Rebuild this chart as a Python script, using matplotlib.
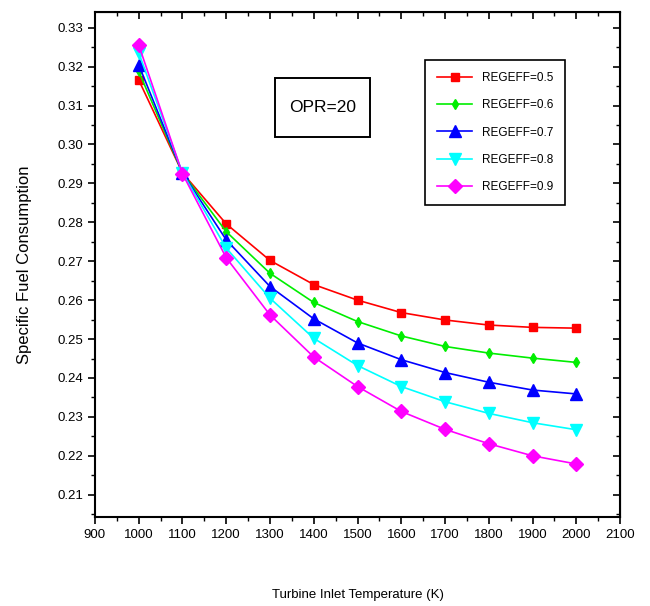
import matplotlib
matplotlib.use("Agg")
import matplotlib.pyplot as plt
from matplotlib.ticker import MultipleLocator
from matplotlib.patches import Rectangle

plt.rcParams['font.family'] = ['Liberation Sans', 'DejaVu Sans']

tit = [1000, 1100, 1200, 1300, 1400, 1500, 1600, 1700, 1800, 1900, 2000]
sfc_05 = [0.3166, 0.2927, 0.2796, 0.2702, 0.2640, 0.2600, 0.2568, 0.2549, 0.2536, 0.2530, 0.2528]
sfc_06 = [0.3188, 0.2927, 0.2776, 0.2669, 0.2594, 0.2545, 0.2508, 0.2481, 0.2464, 0.2451, 0.2440]
sfc_07 = [0.3205, 0.2927, 0.2755, 0.2635, 0.2552, 0.2490, 0.2447, 0.2414, 0.2389, 0.2369, 0.2359]
sfc_08 = [0.3236, 0.2927, 0.2734, 0.2605, 0.2502, 0.2432, 0.2378, 0.2339, 0.2309, 0.2285, 0.2267]
sfc_09 = [0.3256, 0.2925, 0.2709, 0.2562, 0.2454, 0.2378, 0.2314, 0.2268, 0.2231, 0.2200, 0.2179]
labels = ['REGEFF=0.5', 'REGEFF=0.6', 'REGEFF=0.7', 'REGEFF=0.8', 'REGEFF=0.9']

series = [sfc_05, sfc_06, sfc_07, sfc_08, sfc_09]
colors = ['#ff0000', '#00ee00', '#0000ff', '#00ffff', '#ff00ff']
markers = ['s', 'd', '^', 'v', 'D']
msizes = [6, 5, 8, 8, 7]

fig = plt.figure(figsize=(6.5, 6.06), dpi=100)
ax = fig.add_axes([0.146, 0.147, 0.808, 0.833])

for ys, c, m, ms, lab in zip(series, colors, markers, msizes, labels):
    ax.plot(tit, ys, color=c, marker=m, markersize=ms, linewidth=1.2, label=lab)

ax.set_xlim(900, 2100)
ax.set_ylim(0.2043, 0.334)
ax.xaxis.set_major_locator(MultipleLocator(100))
ax.xaxis.set_minor_locator(MultipleLocator(50))
ax.yaxis.set_major_locator(MultipleLocator(0.01))
ax.yaxis.set_minor_locator(MultipleLocator(0.005))
ax.yaxis.set_major_formatter(matplotlib.ticker.FormatStrFormatter('%.2f'))

ax.tick_params(which='major', direction='out', length=5, width=1.2, labelsize=9.5)
ax.tick_params(which='minor', direction='out', length=3, width=1.0)
ax.tick_params(which='both', top=False, right=False)
for s in ax.spines.values():
    s.set_linewidth(1.5)

# mirrored inward ticks on top and right
axt = ax.secondary_xaxis('top')
axt.xaxis.set_major_locator(MultipleLocator(100))
axt.xaxis.set_minor_locator(MultipleLocator(50))
axt.tick_params(which='major', direction='in', length=5, width=1.2, labeltop=False)
axt.tick_params(which='minor', direction='in', length=3, width=1.0)
axr = ax.secondary_yaxis('right')
axr.yaxis.set_major_locator(MultipleLocator(0.01))
axr.yaxis.set_minor_locator(MultipleLocator(0.005))
axr.tick_params(which='major', direction='in', length=5, width=1.2, labelright=False)
axr.tick_params(which='minor', direction='in', length=3, width=1.0)

ax.set_xlabel('Turbine Inlet Temperature (K)', fontsize=9.5, labelpad=35)
ax.set_ylabel('Specific Fuel Consumption', fontsize=12, labelpad=18)

ax.add_patch(Rectangle((0.343, 0.752), 0.181, 0.117, transform=ax.transAxes,
                       facecolor='white', edgecolor='black', linewidth=1.4, zorder=4))
ax.text(0.4335, 0.8105, 'OPR=20', transform=ax.transAxes, fontsize=12.5,
        ha='center', va='center', zorder=5)

leg = ax.legend(loc='upper right', bbox_to_anchor=(0.895, 0.905), fontsize=8.5,
                fancybox=False, edgecolor='black', framealpha=1, borderaxespad=0,
                handlelength=3, borderpad=1.0, labelspacing=1.3)
leg.get_frame().set_linewidth(1.2)

fig.savefig('out.png', dpi=100)
